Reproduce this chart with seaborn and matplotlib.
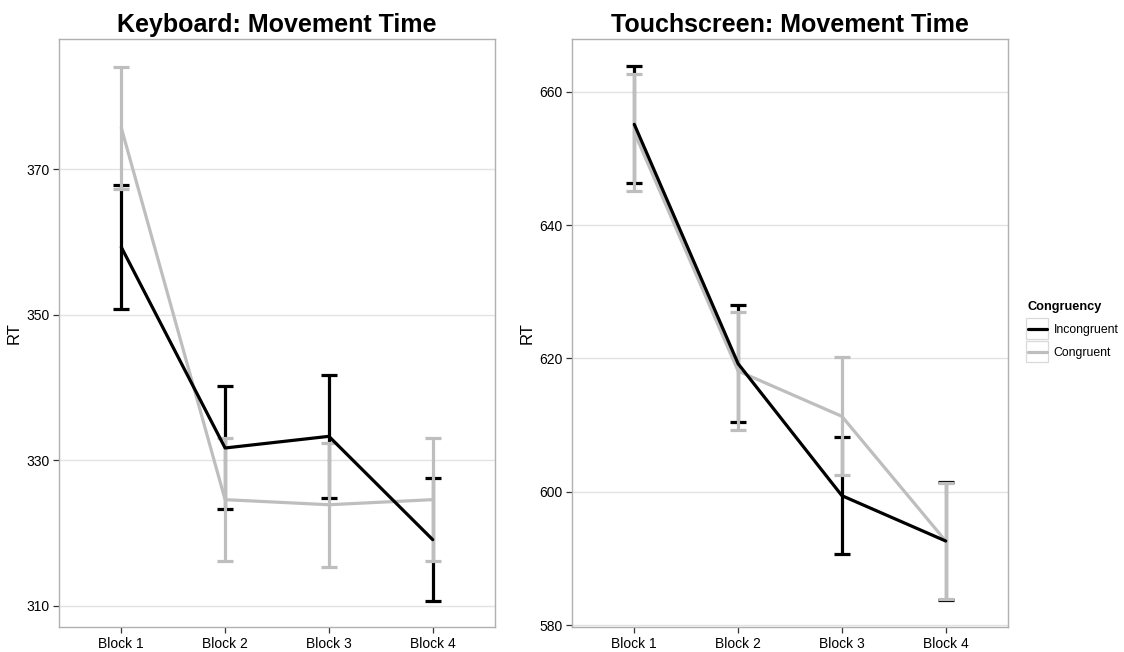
import matplotlib
matplotlib.use("Agg")
import matplotlib.pyplot as plt
from matplotlib.patches import Rectangle
import numpy as np
import pandas as pd
import seaborn as sns

# Mean movement time per block and its error (+/-) for each condition
blocks = ["Block 1", "Block 2", "Block 3", "Block 4"]
conditions = ["Incongruent", "Congruent"]

kb_incongruent = [359.3, 331.7, 333.3, 319.1]
kb_incongruent_err = [8.5, 8.45, 8.45, 8.45]
kb_congruent = [375.7, 324.6, 323.9, 324.6]
kb_congruent_err = [8.4, 8.45, 8.5, 8.45]

ts_incongruent = [655.1, 619.2, 599.4, 592.6]
ts_incongruent_err = [8.8, 8.8, 8.8, 8.8]
ts_congruent = [653.9, 618.1, 611.3, 592.6]
ts_congruent_err = [8.8, 8.8, 8.85, 8.75]

kb_ticks = [310, 330, 350, 370]
ts_ticks = [580, 600, 620, 640, 660]

sns.set_theme(style="white")
plt.rcParams["font.family"] = ["Liberation Sans", "DejaVu Sans"]
plt.rcParams["text.color"] = "black"

palette = {"Incongruent": "black", "Congruent": "#BEBEBE"}

W, H = 1124, 652
fig = plt.figure(figsize=(W / 100, H / 100), dpi=100)
fig.patch.set_facecolor("white")


def make_frame(incong, incong_err, cong, cong_err):
    rows = []
    for cond, means, errs in (("Incongruent", incong, incong_err),
                              ("Congruent", cong, cong_err)):
        for i, b in enumerate(blocks):
            rows.append({"Block": b, "pos": i, "RT": means[i],
                         "err": errs[i], "Congruency": cond})
    return pd.DataFrame(rows)


def draw_panel(rect, df, title, ticks, ylim, show_legend):
    ax = fig.add_axes(rect)
    ax.set_facecolor("white")
    # error bars: incongruent first, congruent on top
    for cond in conditions:
        sub = df[df["Congruency"] == cond]
        ax.errorbar(sub["pos"], sub["RT"], yerr=sub["err"], fmt="none",
                    ecolor=palette[cond], elinewidth=2.3, capsize=5.5,
                    capthick=2.3, zorder=2)
    sns.lineplot(data=df, x="pos", y="RT", hue="Congruency",
                 hue_order=["Congruent", "Incongruent"], palette=palette,
                 linewidth=2.3, ax=ax, legend=show_legend, zorder=3,
                 estimator=None, sort=False)
    ax.set_xlim(-0.6, 3.6)
    ax.set_ylim(*ylim)
    ax.set_xticks(range(len(blocks)))
    ax.set_xticklabels(blocks)
    ax.set_yticks(ticks)
    ax.set_xlabel("")
    ax.set_ylabel("RT", fontsize=12, color="black", labelpad=3)
    ax.set_title(title, fontsize=18, fontweight="bold", color="black", pad=5)
    ax.grid(axis="y", color="#E3E3E3", linewidth=1.0)
    ax.grid(axis="x", visible=False)
    ax.set_axisbelow(True)
    for s in ax.spines.values():
        s.set_color("#B0B0B0")
        s.set_linewidth(1.0)
    ax.tick_params(axis="both", which="major", length=4, width=0.9,
                   color="#333333", labelsize=10, labelcolor="black",
                   direction="out", pad=3, left=True, bottom=True)
    return ax


kb_df = make_frame(kb_incongruent, kb_incongruent_err, kb_congruent, kb_congruent_err)
ts_df = make_frame(ts_incongruent, ts_incongruent_err, ts_congruent, ts_congruent_err)

ax1 = draw_panel([59 / W, 25 / H, 436 / W, 588 / H], kb_df,
                 "Keyboard: Movement Time", kb_ticks, (307.1, 387.9), False)
ax2 = draw_panel([572 / W, 25 / H, 436 / W, 588 / H], ts_df,
                 "Touchscreen: Movement Time", ts_ticks, (579.7, 667.9), True)

# legend to the right of the touchscreen panel
handles, labels = ax2.get_legend_handles_labels()
order = [labels.index(c) for c in conditions]
ax2.get_legend().remove()
leg = fig.legend([handles[i] for i in order], [labels[i] for i in order],
                 title="Congruency", loc="upper left",
                 bbox_to_anchor=(1028 / W, 1 - 301 / H), frameon=False,
                 fontsize=8.8, title_fontsize=9.2, handlelength=1.55,
                 handletextpad=0.55, labelspacing=0.9, borderaxespad=0,
                 borderpad=0)
leg.get_title().set_fontweight("bold")
leg._legend_box.align = "left"
for ln in leg.get_lines():
    ln.set_linewidth(2.3)

# light grey frames around each legend key
fig.canvas.draw()
renderer = fig.canvas.get_renderer()
inv = fig.transFigure.inverted()
for ln in leg.get_lines():
    bb = ln.get_window_extent(renderer)
    cx, cy = (bb.x0 + bb.x1) / 2, (bb.y0 + bb.y1) / 2
    x0, y0 = inv.transform((cx - 11, cy - 10.5))
    x1, y1 = inv.transform((cx + 11, cy + 10.5))
    fig.patches.append(Rectangle((x0, y0), x1 - x0, y1 - y0,
                                 transform=fig.transFigure, fill=False,
                                 edgecolor="#D9D9D9", linewidth=0.9,
                                 zorder=0))

fig.savefig("out.png", dpi=100, facecolor="white")
